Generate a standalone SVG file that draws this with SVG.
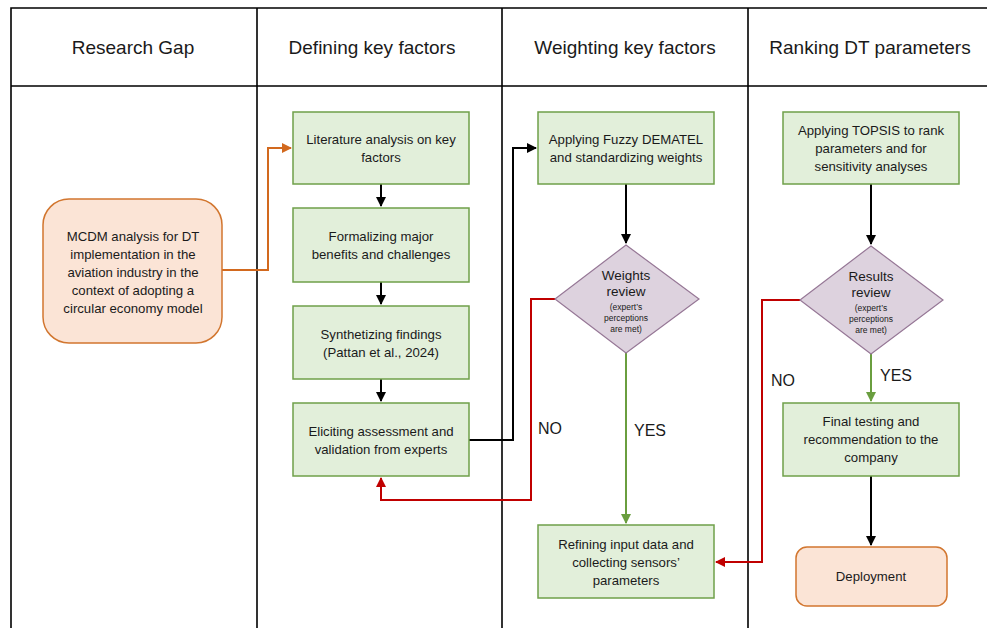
<svg xmlns="http://www.w3.org/2000/svg" width="987" height="628" viewBox="0 0 987 628">
<defs>
<style>
text{font-family:"Liberation Sans",Arial,sans-serif;fill:#1a1a1a;text-anchor:middle}
.hdr{font-size:19px}
.bt{font-size:13.2px}
.dt{font-size:13.5px}
.sm{font-size:8.5px}
.lbl{font-size:16px;text-anchor:start}
.grid{stroke:#000;stroke-width:1.6;fill:none}
.box{fill:#e2efda;stroke:#6fa049;stroke-width:1.5}
.dia{fill:#ddd2de;stroke:#967796;stroke-width:1.2}
.org{fill:#fbe4d6;stroke:#d2762f;stroke-width:1.5}
.ck{fill:none;stroke:#000;stroke-width:2}
.cr{fill:none;stroke:#c00000;stroke-width:2}
.cg{fill:none;stroke:#6a9e3f;stroke-width:2}
.co{fill:none;stroke:#d2691e;stroke-width:2}
</style>
<marker id="ak" viewBox="0 0 10 10" refX="9" refY="5" markerWidth="5" markerHeight="5" orient="auto"><path d="M0,0 L10,5 L0,10 z" fill="#000"/></marker>
<marker id="ar" viewBox="0 0 10 10" refX="9" refY="5" markerWidth="5" markerHeight="5" orient="auto"><path d="M0,0 L10,5 L0,10 z" fill="#c00000"/></marker>
<marker id="ag" viewBox="0 0 10 10" refX="9" refY="5" markerWidth="5" markerHeight="5" orient="auto"><path d="M0,0 L10,5 L0,10 z" fill="#6a9e3f"/></marker>
<marker id="ao" viewBox="0 0 10 10" refX="9" refY="5" markerWidth="5" markerHeight="5" orient="auto"><path d="M0,0 L10,5 L0,10 z" fill="#d2691e"/></marker>
</defs>
<rect width="987" height="628" fill="#fff"/>
<g id="table">
<path class="grid" d="M11,628 V8 H987 M11,86 H987 M257,8 V628 M502,8 V628 M748,8 V628"/>
<text class="hdr" x="133" y="54">Research Gap</text>
<text class="hdr" x="372" y="54">Defining key factors</text>
<text class="hdr" x="625" y="54">Weighting key factors</text>
<text class="hdr" x="870" y="54">Ranking DT parameters</text>
</g>
<g id="connectors">
<path class="co" d="M222,270 H268 V148 H291" marker-end="url(#ao)"/>
<path class="ck" d="M381,184 V206" marker-end="url(#ak)"/>
<path class="ck" d="M381,282 V304" marker-end="url(#ak)"/>
<path class="ck" d="M381,379 V401" marker-end="url(#ak)"/>
<path class="ck" d="M469,440 H513 V148 H536" marker-end="url(#ak)"/>
<path class="ck" d="M626,184 V243" marker-end="url(#ak)"/>
<path class="cg" d="M626,353 V523" marker-end="url(#ag)"/>
<path class="cr" d="M555,299 H531 V500 H381 V478" marker-end="url(#ar)"/>
<path class="ck" d="M871,184 V244" marker-end="url(#ak)"/>
<path class="cg" d="M871,354 V401" marker-end="url(#ag)"/>
<path class="cr" d="M800,300 H762 V562 H716" marker-end="url(#ar)"/>
<path class="ck" d="M871,476 V545" marker-end="url(#ak)"/>
<text class="lbl" x="538" y="434">NO</text>
<text class="lbl" x="634" y="436">YES</text>
<text class="lbl" x="771" y="386">NO</text>
<text class="lbl" x="880" y="381">YES</text>
</g>
<g id="research-gap">
<rect class="org" x="43" y="199" width="179" height="144" rx="26"/>
<text class="bt" x="133" y="241">MCDM analysis for DT</text>
<text class="bt" x="133" y="259">implementation in the</text>
<text class="bt" x="133" y="277">aviation industry in the</text>
<text class="bt" x="133" y="295">context of adopting a</text>
<text class="bt" x="133" y="313">circular economy model</text>
</g>
<g id="literature">
<rect class="box" x="293" y="112" width="176" height="72"/>
<text class="bt" x="381" y="144">Literature analysis on key</text>
<text class="bt" x="381" y="162">factors</text>
</g>
<g id="formalizing">
<rect class="box" x="293" y="208" width="176" height="74"/>
<text class="bt" x="381" y="241">Formalizing major</text>
<text class="bt" x="381" y="259">benefits and challenges</text>
</g>
<g id="synthetizing">
<rect class="box" x="293" y="306" width="176" height="73"/>
<text class="bt" x="381" y="339">Synthetizing findings</text>
<text class="bt" x="381" y="357">(Pattan et al., 2024)</text>
</g>
<g id="eliciting">
<rect class="box" x="293" y="403" width="176" height="73"/>
<text class="bt" x="381" y="436">Eliciting assessment and</text>
<text class="bt" x="381" y="454">validation from experts</text>
</g>
<g id="fuzzy">
<rect class="box" x="538" y="112" width="176" height="72"/>
<text class="bt" x="626" y="144">Applying Fuzzy DEMATEL</text>
<text class="bt" x="626" y="162">and standardizing weights</text>
</g>
<g id="weights-review">
<path class="dia" d="M626,245 L699,299 L626,353 L555,299 Z"/>
<text class="dt" x="626" y="280">Weights</text>
<text class="dt" x="626" y="296">review</text>
<text class="sm" x="626" y="310">(expert’s</text>
<text class="sm" x="626" y="321">perceptions</text>
<text class="sm" x="626" y="332">are met)</text>
</g>
<g id="refining">
<rect class="box" x="538" y="525" width="176" height="73"/>
<text class="bt" x="626" y="549">Refining input data and</text>
<text class="bt" x="626" y="567">collecting sensors’</text>
<text class="bt" x="626" y="585">parameters</text>
</g>
<g id="topsis">
<rect class="box" x="783" y="112" width="176" height="72"/>
<text class="bt" x="871" y="135">Applying TOPSIS to rank</text>
<text class="bt" x="871" y="153">parameters and for</text>
<text class="bt" x="871" y="171">sensitivity analyses</text>
</g>
<g id="results-review">
<path class="dia" d="M871,246 L943,300 L871,354 L800,300 Z"/>
<text class="dt" x="871" y="281">Results</text>
<text class="dt" x="871" y="297">review</text>
<text class="sm" x="871" y="311">(expert’s</text>
<text class="sm" x="871" y="322">perceptions</text>
<text class="sm" x="871" y="333">are met)</text>
</g>
<g id="final-testing">
<rect class="box" x="783" y="403" width="176" height="73"/>
<text class="bt" x="871" y="426">Final testing and</text>
<text class="bt" x="871" y="444">recommendation to the</text>
<text class="bt" x="871" y="462">company</text>
</g>
<g id="deployment">
<rect class="org" x="796" y="547" width="151" height="59" rx="11"/>
<text class="bt" x="871" y="581">Deployment</text>
</g>
</svg>
